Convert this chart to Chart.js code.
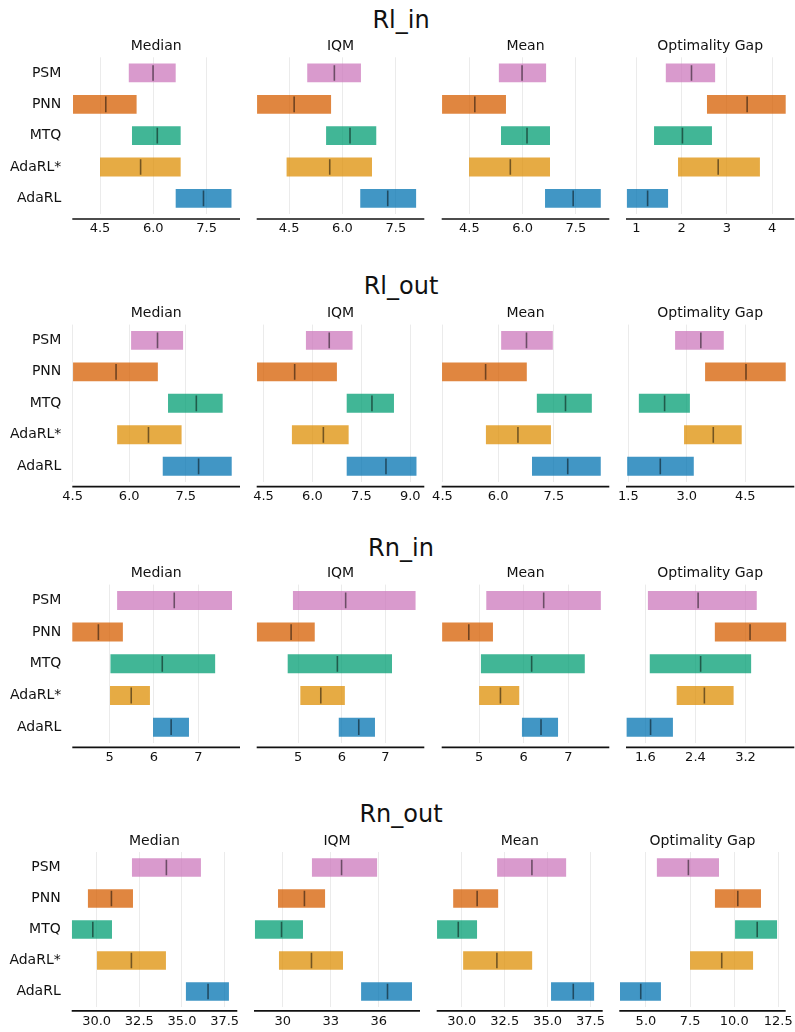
<!DOCTYPE html>
<html>
<head>
<meta charset="utf-8">
<script src="https://cdn.jsdelivr.net/npm/chart.js@4.4.0/dist/chart.umd.min.js"></script>
<style>
  html, body { margin: 0; padding: 0; background: #fff; overflow: hidden; }
  #fig { position: relative; width: 795px; height: 1032px; overflow: hidden; }
  #fig canvas { position: absolute; }
  .env-title {
    position: absolute; left: 0; width: 802px; text-align: center;
    font-family: 'DejaVu Sans', sans-serif; font-size: 24px; line-height: 24px;
    color: #111; white-space: nowrap;
  }
</style>
</head>
<body>
<div id="fig"></div>
<script>
// ---- data ---------------------------------------------------------------
const methods = ['PSM', 'PNN', 'MTQ', 'AdaRL*', 'AdaRL'];
const metrics = ['Median', 'IQM', 'Mean', 'Optimality Gap'];
const environments = ['Rl_in', 'Rl_out', 'Rn_in', 'Rn_out'];

// interval estimates per method: [lower, point, upper]
const rlInMedian = [[5.31, 5.97, 6.63], [3.74, 4.64, 5.53], [5.40, 6.09, 6.77], [4.50, 5.62, 6.77], [6.63, 7.39, 8.20]];
const rlInIQM    = [[5.01, 5.75, 6.52], [3.60, 4.62, 5.68], [5.54, 6.19, 6.95], [4.43, 5.62, 6.83], [6.50, 7.25, 8.07]];
const rlInMean   = [[5.33, 5.96, 6.66], [3.73, 4.63, 5.53], [5.39, 6.10, 6.77], [4.49, 5.63, 6.77], [6.63, 7.40, 8.20]];
const rlInGap    = [[1.65, 2.20, 2.74], [2.56, 3.43, 4.30], [1.39, 2.00, 2.67], [1.92, 2.79, 3.73], [0.79, 1.23, 1.70]];

const rlOutMedian = [[6.05, 6.73, 7.43], [4.51, 5.63, 6.76], [7.03, 7.76, 8.48], [5.68, 6.49, 7.39], [6.89, 7.82, 8.72]];
const rlOutIQM    = [[5.80, 6.49, 7.23], [4.30, 5.43, 6.75], [7.05, 7.80, 8.50], [5.37, 6.31, 7.11], [7.05, 8.23, 9.19]];
const rlOutMean   = [[6.08, 6.74, 7.47], [4.49, 5.64, 6.77], [7.04, 7.79, 8.52], [5.67, 6.51, 7.42], [6.91, 7.85, 8.76]];
const rlOutGap    = [[2.70, 3.34, 3.95], [3.47, 4.50, 5.54], [1.77, 2.41, 3.08], [2.93, 3.66, 4.41], [1.47, 2.30, 3.18]];

const rnInMedian = [[5.17, 6.44, 7.76], [4.15, 4.73, 5.30], [5.02, 6.17, 7.38], [5.01, 5.47, 5.91], [5.98, 6.37, 6.79]];
const rnInIQM    = [[4.88, 6.07, 7.69], [4.05, 4.82, 5.38], [4.76, 5.88, 7.15], [5.05, 5.50, 6.07], [5.93, 6.37, 6.76]];
const rnInMean   = [[5.16, 6.43, 7.73], [4.17, 4.75, 5.31], [5.04, 6.16, 7.37], [5.00, 5.46, 5.90], [5.96, 6.37, 6.77]];
const rnInGap    = [[1.64, 2.43, 3.38], [2.71, 3.26, 3.85], [1.67, 2.47, 3.29], [2.10, 2.53, 3.01], [1.30, 1.67, 2.04]];

const rnOutMedian = [[32.07, 34.04, 36.11], [29.49, 30.82, 32.13], [28.55, 29.73, 30.90], [30.02, 31.99, 34.06], [35.23, 36.48, 37.75]];
const rnOutIQM    = [[31.83, 33.63, 35.90], [29.71, 31.31, 32.65], [28.27, 29.88, 31.27], [29.77, 31.75, 33.77], [34.90, 36.50, 38.08]];
const rnOutMean   = [[32.06, 34.04, 36.08], [29.50, 30.85, 32.12], [28.56, 29.75, 30.89], [30.08, 32.00, 34.10], [35.20, 36.45, 37.71]];
const rnOutGap    = [[5.62, 7.36, 9.14], [8.91, 10.16, 11.52], [10.05, 11.26, 12.43], [7.50, 9.25, 11.07], [3.53, 4.66, 5.85]];

// x-axis limits per metric panel
const rlInLimits  = [[3.72, 8.44], [3.59, 8.30], [3.72, 8.44], [0.77, 4.49]];
const rlOutLimits = [[4.49, 8.94], [4.29, 9.43], [4.48, 8.99], [1.44, 5.76]];
const rnInLimits  = [[4.16, 7.94], [4.05, 7.89], [4.16, 7.92], [1.29, 3.98]];
const rnOutLimits = [[28.54, 38.24], [28.21, 38.58], [28.54, 38.21], [3.49, 12.92]];

// tick values and their labels
const rlInTicks  = [[4.5, 6.0, 7.5], [4.5, 6.0, 7.5], [4.5, 6.0, 7.5], [1, 2, 3, 4]];
const rlInTickLabels  = [['4.5', '6.0', '7.5'], ['4.5', '6.0', '7.5'], ['4.5', '6.0', '7.5'], ['1', '2', '3', '4']];
const rlOutTicks = [[4.5, 6.0, 7.5], [4.5, 6.0, 7.5, 9.0], [4.5, 6.0, 7.5], [1.5, 3.0, 4.5]];
const rlOutTickLabels = [['4.5', '6.0', '7.5'], ['4.5', '6.0', '7.5', '9.0'], ['4.5', '6.0', '7.5'], ['1.5', '3.0', '4.5']];
const rnInTicks  = [[5, 6, 7], [5, 6, 7], [5, 6, 7], [1.6, 2.4, 3.2]];
const rnInTickLabels  = [['5', '6', '7'], ['5', '6', '7'], ['5', '6', '7'], ['1.6', '2.4', '3.2']];
const rnOutTicks = [[30, 32.5, 35, 37.5], [30, 33, 36], [30, 32.5, 35, 37.5], [5, 7.5, 10, 12.5]];
const rnOutTickLabels = [['30.0', '32.5', '35.0', '37.5'], ['30', '33', '36'], ['30.0', '32.5', '35.0', '37.5'], ['5.0', '7.5', '10.0', '12.5']];

// ---- styling ------------------------------------------------------------
const methodColors = [
  'rgba(204,120,188,0.75)',
  'rgba(213,94,0,0.75)',
  'rgba(2,158,115,0.75)',
  'rgba(222,143,5,0.75)',
  'rgba(1,115,178,0.75)'
];
const FONT = "'DejaVu Sans', sans-serif";
const TEXT = '#111';

// panel geometry: plot area rows (top/bottom) and columns (left/right)
const rowLayout = [
  { title: 312.7, top: 57.3,  bottom: 214.0, spine: 5.0, cols: [[72.3, 240.0], [256.7, 424.3], [441.7, 609.3], [626.0, 794.3]], titleTop: 7.6 },
  { top: 324.6, bottom: 481.4, spine: 4.6, cols: [[72.3, 240.0], [256.7, 424.3], [441.7, 609.3], [626.0, 794.3]], titleTop: 273.9 },
  { top: 584.6, bottom: 742.3, spine: 4.4, cols: [[72.3, 240.0], [256.7, 424.3], [441.7, 609.3], [626.0, 794.3]], titleTop: 535.6 },
  { top: 852.0, bottom: 1007.0, spine: 3.8, cols: [[71.7, 237.3], [254.0, 420.0], [436.7, 602.7], [619.3, 785.7]], titleTop: 802.3 }
];

const envData = [
  { intervals: [rlInMedian, rlInIQM, rlInMean, rlInGap], limits: rlInLimits, ticks: rlInTicks, labels: rlInTickLabels },
  { intervals: [rlOutMedian, rlOutIQM, rlOutMean, rlOutGap], limits: rlOutLimits, ticks: rlOutTicks, labels: rlOutTickLabels },
  { intervals: [rnInMedian, rnInIQM, rnInMean, rnInGap], limits: rnInLimits, ticks: rnInTicks, labels: rnInTickLabels },
  { intervals: [rnOutMedian, rnOutIQM, rnOutMean, rnOutGap], limits: rnOutLimits, ticks: rnOutTicks, labels: rnOutTickLabels }
];

// bottom spine, pushed slightly outward below the plot area
const spinePlugin = {
  id: 'outwardSpine',
  afterDraw(chart, args, opts) {
    const { ctx, chartArea: a } = chart;
    const y = a.bottom + opts.gap;
    ctx.save();
    ctx.strokeStyle = '#111';
    ctx.lineWidth = 1.7;
    ctx.beginPath();
    ctx.moveTo(a.left, y);
    ctx.lineTo(a.right, y);
    ctx.stroke();
    ctx.restore();
  }
};

Chart.defaults.font.family = FONT;
Chart.defaults.color = TEXT;

const fig = document.getElementById('fig');
const TITLE_BOX = 19.2;   // 14px * 1.2 line height + 2.4 bottom padding
const X_AXIS_H = 30;
const SIDE = 24;

environments.forEach((env, r) => {
  const geo = rowLayout[r];
  const d = envData[r];

  const head = document.createElement('div');
  head.className = 'env-title';
  head.style.top = geo.titleTop + 'px';
  head.textContent = env;
  fig.appendChild(head);

  metrics.forEach((metric, c) => {
    const [x0, x1] = geo.cols[c];
    const first = c === 0;
    const left = first ? 0 : Math.floor(x0) - SIDE;
    const top = Math.floor(geo.top - TITLE_BOX - 4);
    const width = Math.ceil(x1 + SIDE) - left;
    const height = Math.ceil(geo.bottom + X_AXIS_H) - top;
    const padLeft = first ? 0 : x0 - left;
    const padRight = left + width - x1;
    const padTop = geo.top - TITLE_BOX - top;

    const canvas = document.createElement('canvas');
    canvas.width = width;
    canvas.height = height;
    canvas.style.left = left + 'px';
    canvas.style.top = top + 'px';
    canvas.style.width = width + 'px';
    canvas.style.height = height + 'px';
    fig.appendChild(canvas);

    const rows = d.intervals[c];
    const tickVals = d.ticks[c];
    const tickText = d.labels[c];

    new Chart(canvas, {
      type: 'bar',
      data: {
        labels: methods,
        datasets: [
          {
            label: 'point estimate',
            data: rows.map(v => [v[1], v[1]]),
            backgroundColor: 'rgba(0,0,0,0.5)',
            minBarLength: 1.6,
            barPercentage: 0.5,
            categoryPercentage: 1,
            grouped: false,
            order: 0
          },
          {
            label: 'interval',
            data: rows.map(v => [v[0], v[2]]),
            backgroundColor: methodColors,
            barPercentage: 0.6,
            categoryPercentage: 1,
            grouped: false,
            order: 1
          }
        ]
      },
      options: {
        indexAxis: 'y',
        responsive: false,
        animation: false,
        devicePixelRatio: 1,
        layout: { padding: { top: padTop, left: padLeft, right: padRight, bottom: 0 } },
        plugins: {
          legend: { display: false },
          tooltip: { enabled: false },
          title: {
            display: true,
            text: metric,
            fullSize: false,
            color: TEXT,
            font: { family: FONT, size: 14, weight: 'normal', lineHeight: 1.2 },
            padding: { top: 0, bottom: 2.4 }
          },
          outwardSpine: { gap: geo.spine }
        },
        scales: {
          x: {
            type: 'linear',
            min: d.limits[c][0],
            max: d.limits[c][1],
            afterBuildTicks: axis => { axis.ticks = tickVals.map(v => ({ value: v })); },
            afterFit: axis => { axis.height = X_AXIS_H; },
            grid: { display: true, color: '#ebebeb', lineWidth: 1, drawTicks: false },
            border: { display: false },
            ticks: {
              autoSkip: false, maxRotation: 0, padding: 6.6,
              color: TEXT, font: { family: FONT, size: 13 },
              callback: (v, i) => tickText[i]
            }
          },
          y: {
            type: 'category',
            offset: true,
            display: first,
            afterFit: axis => { if (first) axis.width = x0; },
            grid: { display: false, drawTicks: false },
            border: { display: false },
            ticks: { padding: 11, color: TEXT, font: { family: FONT, size: 14 } }
          }
        }
      },
      plugins: [spinePlugin]
    });
  });
});
</script>
</body>
</html>
